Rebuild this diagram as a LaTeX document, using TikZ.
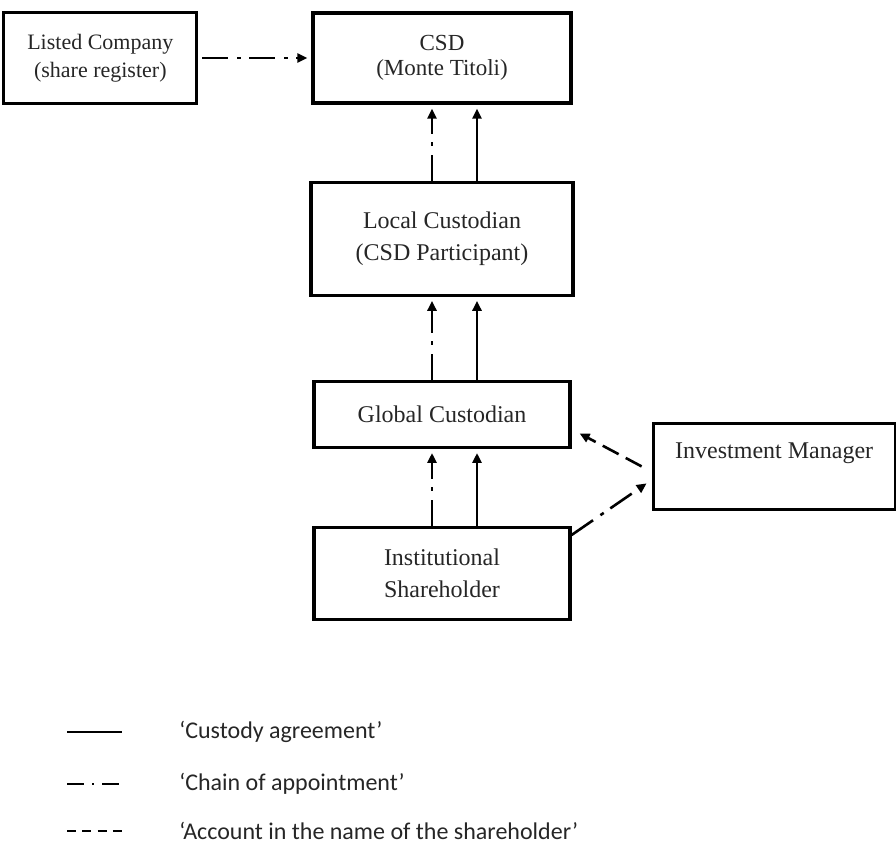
\documentclass[tikz,border=0pt]{standalone}
\usepackage{fontspec}
\usepackage{tikz}
\usetikzlibrary{arrows.meta,positioning}
\setmainfont{Liberation Serif}
\newfontfamily\legendfont{Carlito}

\begin{document}
\begin{tikzpicture}[->,>={Triangle[length=5pt,width=4.5pt]},node distance=38pt,
                    line width=1.3pt,
                    main node/.style={rectangle,draw,line width=1.6pt,align=center,inner sep=2pt,
                      text=black!85,font=\fontsize{12}{16}\selectfont},
                    custody/.style={solid,shorten >=2pt},
                    appoint/.style={dash pattern=on 13pt off 4.5pt on 2pt off 4pt,shorten >=2pt},
                    account/.style={dash pattern=on 9pt off 4pt},
                    legend/.style={font=\legendfont\fontsize{12}{14}\selectfont,text=black!85,
                      anchor=west,inner sep=0pt}]

  \useasboundingbox (0,0) rectangle (448pt,-422.5pt);

  \node[main node,minimum width=129pt,minimum height=45pt,font=\fontsize{11.5}{12.5}\selectfont] (csd) at (221pt,-29pt) {CSD\\(Monte Titoli)};
  \node[main node,minimum width=96.5pt,minimum height=45.5pt,font=\fontsize{11}{14}\selectfont] (lst) [left=56.5pt of csd] {Listed Company\\(share register)};
  \node[main node,minimum width=131pt,minimum height=56.5pt] (local) [below=of csd] {Local Custodian\\(CSD Participant)};
  \node[main node,minimum width=128pt,minimum height=33pt] (glob) [below=41.5pt of local] {Global Custodian};
  \node[main node,minimum width=128pt,minimum height=46pt] (inst) [below=38.5pt of glob] {Institutional\\Shareholder};
  \node[main node,minimum width=121pt,minimum height=43pt] (inv) [right=40pt of glob,yshift=-26pt] {Investment Manager\\\mbox{}};

  \path
    (lst) edge[appoint,shorten <=2pt] (csd)
    ([xshift=-5pt]local.north) edge[appoint] ([xshift=-5pt]local.north |- csd.south)
    ([xshift=17.5pt]local.north) edge[custody] ([xshift=17.5pt]local.north |- csd.south)
    ([xshift=-5pt]glob.north) edge[appoint] ([xshift=-5pt]glob.north |- local.south)
    ([xshift=17.5pt]glob.north) edge[custody] ([xshift=17.5pt]glob.north |- local.south)
    ([xshift=-5pt]inst.north) edge[appoint] ([xshift=-5pt]inst.north |- glob.south)
    ([xshift=17.5pt]inst.north) edge[custody] ([xshift=17.5pt]inst.north |- glob.south)
    ([xshift=-5pt]inv.west) edge[account] ([xshift=4pt,yshift=-9.5pt]glob.east)
    ([yshift=-4.5pt]inst.north east) edge[appoint,shorten >=0pt] ([xshift=-2.5pt,yshift=-8.5pt]inv.west);

  % legend
  \node[legend] (leg1) at (89pt,-366pt) {‘Custody agreement’};
  \node[legend] (leg2) at (89pt,-392pt) {‘Chain of appointment’};
  \node[legend] (leg3) at (89pt,-415.5pt) {‘Account in the name of the shareholder’};
  \draw[-] ([xshift=-55.5pt]leg1.west) -- ([xshift=-28pt]leg1.west);
  \draw[-,dash pattern=on 8.5pt off 4pt on 1pt off 4pt] ([xshift=-55.5pt]leg2.west) -- ([xshift=-28.5pt]leg2.west);
  \draw[-,dash pattern=on 4.5pt off 3.15pt] ([xshift=-55.5pt]leg3.west) -- ([xshift=-28pt]leg3.west);
\end{tikzpicture}
\end{document}
